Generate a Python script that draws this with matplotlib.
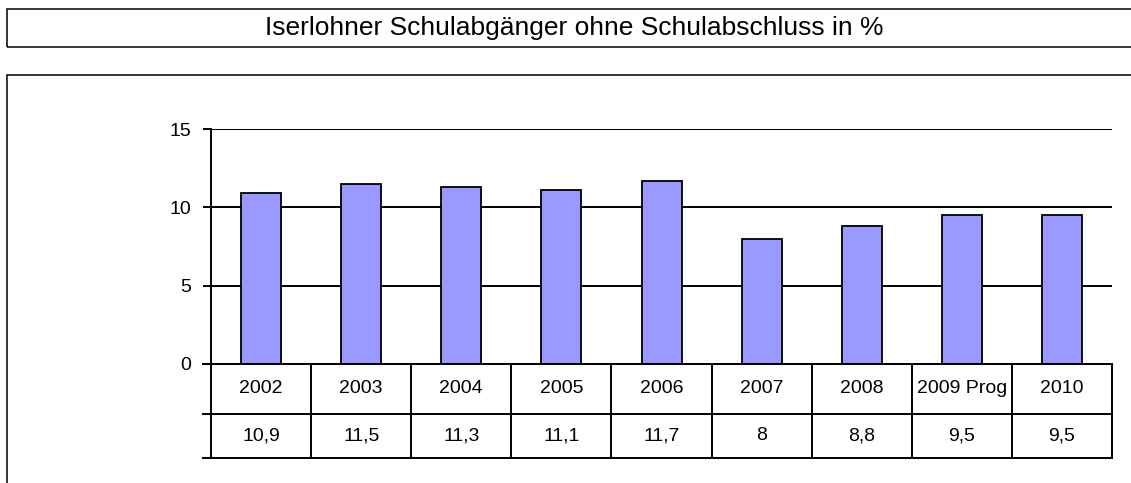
import matplotlib.pyplot as plt
from matplotlib.patches import Rectangle

plt.rcParams['font.family'] = ['Liberation Sans', 'DejaVu Sans']

years = ["2002", "2003", "2004", "2005", "2006", "2007", "2008", "2009 Prog", "2010"]
values = [10.9, 11.5, 11.3, 11.1, 11.7, 8, 8.8, 9.5, 9.5]
value_labels = ["10,9", "11,5", "11,3", "11,1", "11,7", "8", "8,8", "9,5", "9,5"]
title = "Iserlohner Schulabgänger ohne Schulabschluss in %"

fig = plt.figure(figsize=(11.31, 4.83), dpi=100)

# frames around title and chart
fig.patches.append(Rectangle((0.0066, 0.9027), 1.2, 0.0787, transform=fig.transFigure,
                             fill=False, edgecolor="black", linewidth=1.1))
fig.patches.append(Rectangle((0.0066, -0.1), 1.2, 0.9447, transform=fig.transFigure,
                             fill=False, edgecolor="black", linewidth=1.1))
fig.text(0.508, 0.942, title, ha="center", va="center", fontsize=19)

ax = fig.add_axes([0.1866, 0.2464, 0.7966, 0.4865])
x = list(range(len(years)))
ax.bar(x, values, width=0.4, color="#9999FF", edgecolor="black", linewidth=1.3, zorder=3)

ax.set_xlim(-0.5, len(years) - 0.5)
ax.set_ylim(0, 15)
ax.set_yticks([0, 5, 10, 15])
ax.yaxis.grid(True, color="black", linewidth=1.4, zorder=0)
ax.set_axisbelow(True)
ax.set_xticks([])
for s in ["top", "right", "bottom"]:
    ax.spines[s].set_visible(False)
ax.spines["left"].set_linewidth(1.4)
ax.tick_params(axis="y", length=6, width=1.4, pad=8, labelsize=14)

# data table below the axis
tr = ax.get_xaxis_transform()
r1 = -0.2128
r2 = -0.40
for yy in [0, r1, r2]:
    ax.plot([-0.58, len(years) - 0.5], [yy, yy], color="black", linewidth=1.4,
            transform=tr, clip_on=False, zorder=4)
for i in range(len(years) + 1):
    ax.plot([i - 0.5, i - 0.5], [0, r2], color="black", linewidth=1.4,
            transform=tr, clip_on=False)
for i, (yr, lab) in enumerate(zip(years, value_labels)):
    ax.text(i, r1 / 2, yr, ha="center", va="center", fontsize=14, transform=tr)
    ax.text(i, (r1 + r2) / 2, lab, ha="center", va="center", fontsize=14, transform=tr)

fig.savefig("out.png", dpi=100)
